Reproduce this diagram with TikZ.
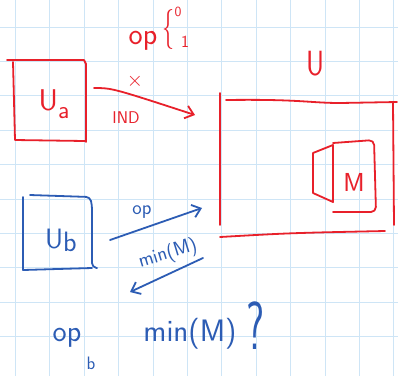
\documentclass[tikz,border=0pt]{standalone}
\usetikzlibrary{arrows.meta}
\definecolor{pred}{RGB}{232,32,42}
\definecolor{pblue}{RGB}{44,92,180}
\definecolor{gridc}{RGB}{206,229,246}
\begin{document}
\begin{tikzpicture}[x=1pt,y=-1pt,
  pen/.style={line width=1.8pt,line cap=round,line join=round},
  redpen/.style={pen,draw=pred},
  bluepen/.style={pen,draw=pblue},
  gridline/.style={draw=gridc,line width=1pt},
  hand/.style={inner sep=0pt,font=\sffamily\fontsize{#1}{#1}\selectfont},
  rtext/.style={hand=#1,text=pred},
  btext/.style={hand=#1,text=pblue},
  tip/.style={-{Straight Barb[length=8pt,width=13pt]}}]
\useasboundingbox (0,0) rectangle (398,376);
\fill[white] (0,0) rectangle (398,376);
\foreach \i in {0,...,11} \draw[gridline] ({15.5+34.4*\i},0) -- ({15.5+34.4*\i},376);
\foreach \j in {1,...,10} \draw[gridline] (0,{-7.4+34.4*\j}) -- (398,{-7.4+34.4*\j});

% --- U_a box (red)
\draw[redpen] (7,60) -- (84,60) -- (86,64) -- (86,142);
\draw[redpen] (13,62) -- (15,140) -- (85,141);
\node[rtext=30] (Ua) at (54,104) {U\raisebox{-8pt}{\fontsize{25}{25}\selectfont a}};

% --- op {0,1}
\node[rtext=30] (op1) at (143,41) {op};
\node[rtext=40,xscale=0.6] (br) at (168,29) {\{};
\node[rtext=14] (z0) at (178,12) {0};
\node[rtext=17] (z1) at (185,42) {1};

% --- red arrow with labels
\coordinate (a1) at (94,88);
\coordinate (a2) at (195,115);
\draw[redpen,tip] (a1) .. controls (112,88) .. (a2);
\node[rtext=20] (x) at (135,81) {$\times$};
\node[rtext=17] (ind) at (126,118) {IND};

% --- big U box (red)
\node[rtext=35,xscale=0.8] (U) at (316,64) {U};
\draw[redpen] (220,93) -- (220,225);
\draw[redpen] (226,100) .. controls (300,99) and (310,103) .. (340,103) -- (397,102);
\draw[redpen] (393,103) -- (394,225);
\draw[redpen] (220,237) .. controls (290,233) .. (385,231);

% --- M
\draw[redpen] (313,153) -- (333,145) -- (333,202) -- (313,193) -- cycle;
\draw[redpen,rounded corners=5pt] (333,143) -- (374,140) -- (376,212) -- (333,212);
\node[rtext=26] (M) at (354,182) {M};

% --- U_b box (blue)
\draw[bluepen,rounded corners=4pt] (30,195) -- (90,197) -- (92,205) -- (92,267) -- (97,268);
\draw[bluepen] (23,197) -- (23,270) -- (92,268);
\node[btext=28] (Ub) at (61,240) {U\raisebox{-3pt}{b}};

% --- blue arrows
\coordinate (b1) at (110,240);
\coordinate (b2) at (202,208);
\coordinate (c1) at (203,258);
\coordinate (c2) at (130,292);
\draw[bluepen,tip] (b1) -- (b2);
\draw[bluepen,tip] (c1) -- (c2);
\node[btext=20] (op2) at (142,212) {op};
\node[btext=20,rotate=17] (min1) at (168,254) {min(M)};

% --- bottom
\node[btext=30] (op3) at (67,338) {op};
\node[btext=18] (sb) at (91,363) {b};
\node[btext=31] (min2) at (190,334) {min(M)};
\node[btext=68,xscale=0.6] (q) at (256,326) {?};
\end{tikzpicture}
\end{document}
